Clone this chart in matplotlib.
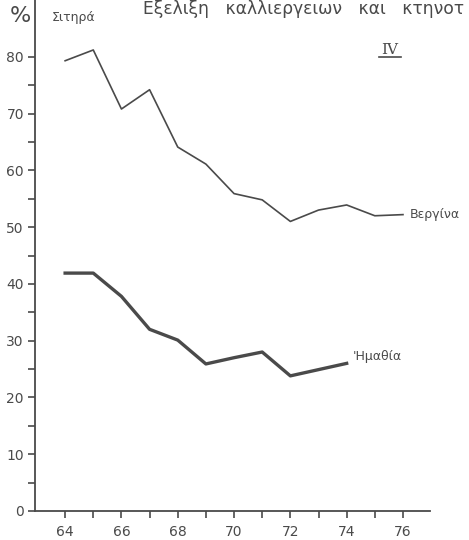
import matplotlib
matplotlib.use("Agg")
import matplotlib.pyplot as plt
from matplotlib.ticker import FixedLocator

# Data (share of cereals, %)
years_vergina = [64, 65, 66, 67, 68, 69, 70, 71, 72, 73, 74, 75, 76]
vergina = [79.3, 81.2, 70.8, 74.2, 64.1, 61.1, 55.9, 54.8, 51.0, 53.0, 53.9, 52.0, 52.2]

years_imathia = [64, 65, 66, 67, 68, 69, 70, 71, 72, 73, 74]
imathia = [41.9, 41.9, 37.8, 32.0, 30.1, 25.9, 27.0, 28.0, 23.8, 24.9, 26.0]

x_ticks = [64, 66, 68, 70, 72, 74, 76]
x_minor = [65, 67, 69, 71, 73, 75]
y_ticks = [0, 10, 20, 30, 40, 50, 60, 70, 80]
y_minor = [5, 15, 25, 35, 45, 55, 65, 75]

ink = "#4a4a4a"
plt.rcParams['font.family'] = ['DejaVu Sans']

fig = plt.figure(figsize=(4.69, 5.4), dpi=100)
ax = fig.add_axes([35 / 469, 29 / 540, 395 / 469, 511 / 540])

ax.plot(years_vergina, vergina, color=ink, lw=1.2)
ax.plot(years_imathia, imathia, color=ink, lw=2.4)

ax.set_xlim(62.93, 76.96)
ax.set_ylim(0, 90)

for s in ["top", "right"]:
    ax.spines[s].set_visible(False)
for s in ["left", "bottom"]:
    ax.spines[s].set_color(ink)
    ax.spines[s].set_linewidth(1.3)

ax.set_xticks(x_ticks)
ax.xaxis.set_minor_locator(FixedLocator(x_minor))
ax.set_yticks(y_ticks)
ax.yaxis.set_minor_locator(FixedLocator(y_minor))
ax.tick_params(which="both", direction="out", color=ink, width=1.2, length=5,
               labelcolor=ink, labelsize=10)
ax.tick_params(axis="x", pad=5)
ax.tick_params(axis="y", pad=3)

# Labels (the title is cut at the page edge in the scan; keep the visible part)
fig.text(20 / 469, 1 - 16 / 540, "%", fontsize=16, color=ink, ha="center", va="center")
fig.text(52 / 469, 1 - 17 / 540, "Σιτηρά", fontsize=9, color=ink, ha="left", va="center")
fig.text(143 / 469, 1 - 9 / 540, "Εξελιξη   καλλιεργειων   και   κτηνοτ",
         fontsize=12.3, color=ink, ha="left", va="center")
fig.text(390 / 469, 1 - 50 / 540, "IV", fontsize=11, color=ink, ha="center", va="center",
         family="DejaVu Serif")
fig.lines.append(plt.Line2D([379 / 469, 401 / 469], [1 - 57 / 540, 1 - 57 / 540],
                            transform=fig.transFigure, color=ink, lw=1.2))
ax.text(76.25, vergina[-1], "Βεργίνα", fontsize=9, color=ink, ha="left", va="center")
ax.text(74.2, imathia[-1] + 1.2, "'Ημαθία", fontsize=9, color=ink, ha="left", va="center")

fig.savefig("out.png", dpi=100)
